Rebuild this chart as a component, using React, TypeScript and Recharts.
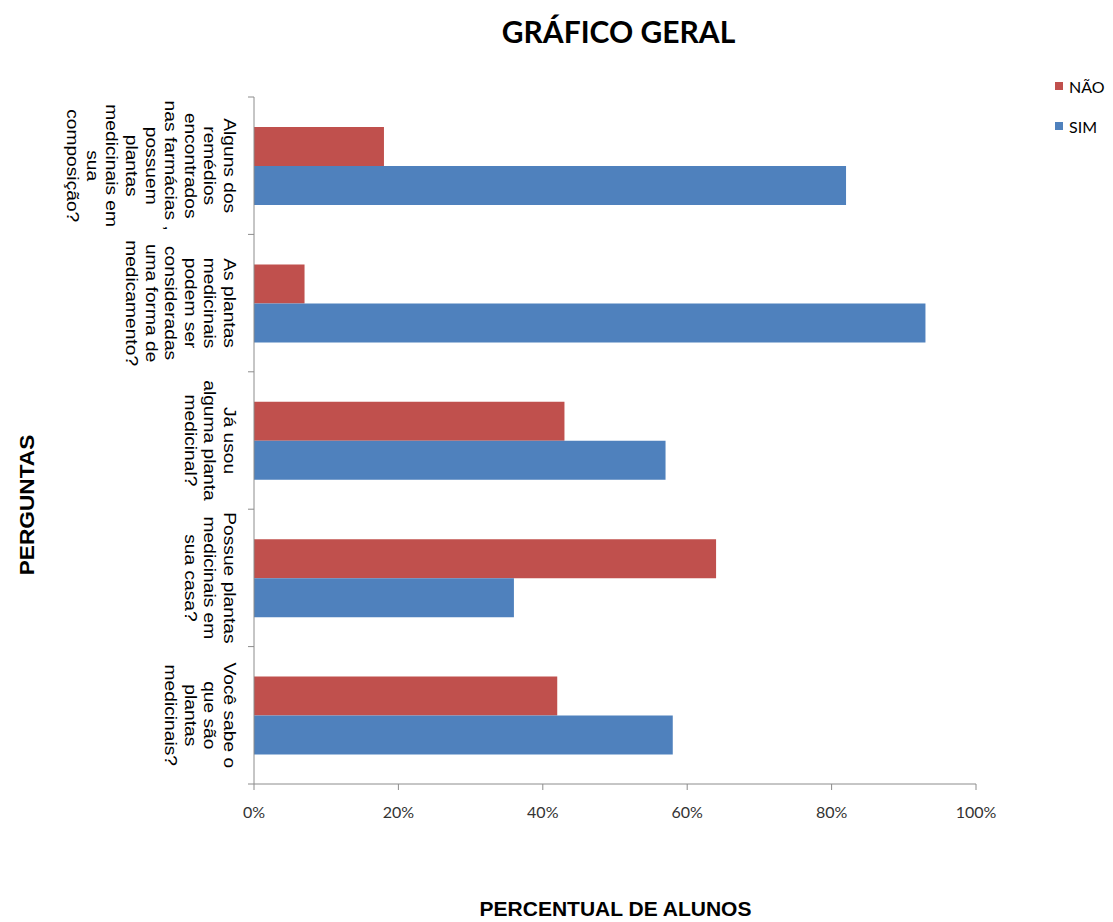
import React from "react";
import { Bar, BarChart, XAxis, YAxis } from "recharts";

const QUESTIONS = [
  "Alguns dos\nremédios\nencontrados\nnas farmácias ,\npossuem\nplantas\nmedicinais em\nsua\ncomposição?",
  "As plantas\nmedicinais\npodem ser\nconsideradas\numa forma de\nmedicamento?",
  "Já usou\nalguma planta\nmedicinal?",
  "Possue plantas\nmedicinais em\nsua casa?",
  "Você sabe o\nque são\nplantas\nmedicinais?"
];
const NAO = [18, 7, 43, 64, 42];
const SIM = [82, 93, 57, 36, 58];
const X_TICKS = [0, 20, 40, 60, 80, 100];

const SERIES = [
  { key: "nao", name: "NÃO", color: "#c0504d" },
  { key: "sim", name: "SIM", color: "#4f81bd" }
];

const AXIS_COLOR = "#8c8c8c";
const CALIBRI = "Lato, 'Open Sans', sans-serif";
const ARIAL = "'Liberation Sans', Arial, sans-serif";

const data = QUESTIONS.map((q, i) => ({ question: q, nao: NAO[i], sim: SIM[i] }));

function QuestionTick(props: any) {
  const { x, y, payload, index, visibleTicksCount } = props;
  const half = payload.offset ?? 68.7;
  const lines = String(payload.value).split("\n");
  const isLast = index === (visibleTicksCount ?? QUESTIONS.length) - 1;
  return (
    <g>
      <line x1={x - 6} x2={x} y1={y - half} y2={y - half} stroke={AXIS_COLOR} />
      {isLast && <line x1={x - 6} x2={x} y1={y + half} y2={y + half} stroke={AXIS_COLOR} />}
      <text
        transform={`translate(${x - 30},${y}) rotate(90) scale(1.13,1)`}
        textAnchor="middle"
        fontFamily={ARIAL}
        fontSize={17}
        fill="#000"
      >
        {lines.map((line, i) => (
          <tspan key={i} x={0} y={i * 19.6}>
            {line}
          </tspan>
        ))}
      </text>
    </g>
  );
}

export default function App() {
  return (
    <div style={{ position: "absolute", left: 0, top: 0, width: 1113, height: 922, background: "#fff" }}>
      <div
        style={{
          position: "absolute",
          left: 0,
          width: 1113,
          top: 13,
          textAlign: "center",
          paddingLeft: 124,
          boxSizing: "border-box",
          fontFamily: CALIBRI,
          fontWeight: 700,
          fontSize: 30,
          color: "#000"
        }}
      >
        GRÁFICO GERAL
      </div>

      <BarChart
        width={1113}
        height={922}
        data={data}
        layout="vertical"
        margin={{ top: 97, right: 137, bottom: 108, left: 0 }}
        barSize={39}
        barGap={0}
      >
        <XAxis
          type="number"
          domain={[0, 100]}
          ticks={X_TICKS}
          tickFormatter={(v: number) => `${v}%`}
          height={30}
          stroke={AXIS_COLOR}
          tickSize={6}
          tickMargin={17}
          tick={{ fill: "#333", fontSize: 16, fontFamily: CALIBRI }}
          interval={0}
        />
        <YAxis
          type="category"
          dataKey="question"
          width={254}
          stroke={AXIS_COLOR}
          tickLine={false}
          tickSize={0}
          tickMargin={0}
          tick={<QuestionTick />}
          interval={0}
        />
        {SERIES.map((s) => (
          <Bar key={s.key} dataKey={s.key} name={s.name} fill={s.color} isAnimationActive={false} />
        ))}
      </BarChart>

      <div style={{ position: "absolute", left: 1055, top: 66 }}>
        {SERIES.map((s) => (
          <div
            key={s.key}
            style={{ display: "flex", alignItems: "center", height: 40, fontFamily: CALIBRI, fontSize: 16, color: "#000" }}
          >
            <span style={{ display: "inline-block", width: 8, height: 8, background: s.color, marginRight: 6 }} />
            {s.name}
          </div>
        ))}
      </div>

      <div
        style={{
          position: "absolute",
          left: 0,
          width: 1113,
          paddingLeft: 118,
          boxSizing: "border-box",
          top: 897,
          textAlign: "center",
          fontFamily: ARIAL,
          fontWeight: 700,
          fontSize: 21
        }}
      >
        PERCENTUAL DE ALUNOS
      </div>

      <div
        style={{
          position: "absolute",
          left: 27,
          top: 505,
          transform: "translate(-50%, -50%) rotate(-90deg) scale(1.08,1)",
          whiteSpace: "nowrap",
          fontFamily: ARIAL,
          fontWeight: 700,
          fontSize: 21
        }}
      >
        PERGUNTAS
      </div>
    </div>
  );
}
